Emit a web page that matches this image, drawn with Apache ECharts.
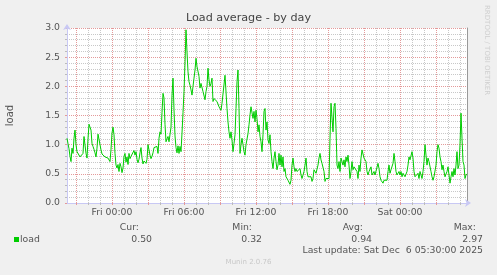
<!DOCTYPE html>
<html><head><meta charset="utf-8">
<script src="https://cdn.jsdelivr.net/npm/echarts@6/dist/echarts.min.js"></script>
<style>html,body{margin:0;padding:0;background:#f0f0f0}#c{width:497px;height:275px}</style>
</head><body><div id="c"></div>
<script>
// time in minutes relative to Fri 00:00; samples every 5 minutes from Thu 20:15 to Sat 05:35
const startMinute = -225;
const stepMinutes = 5;
const load = [
1.11,1.02,0.93,0.80,0.71,0.94,0.85,1.11,1.25,1.0,
0.88,0.85,0.89,0.79,0.81,0.80,0.85,1.14,1.17,0.85,
0.77,1.10,1.35,1.38,1.25,1.02,0.97,0.92,0.86,0.79,
0.94,1.18,1.15,1.0,0.91,0.84,0.86,0.84,0.79,0.82,
0.78,0.77,0.78,0.71,0.92,1.2,1.30,1.17,0.85,0.65,
0.60,0.66,0.54,0.68,0.62,0.52,0.60,0.80,0.85,0.70,
0.79,0.66,0.85,0.76,0.80,0.79,0.82,0.90,0.82,0.88,
0.75,0.69,0.75,0.86,0.95,0.77,0.67,0.72,0.75,0.68,
0.75,1.0,0.91,0.82,0.76,0.80,0.86,0.95,0.94,0.97,
0.97,0.85,1.11,1.22,1.18,
1.55,1.88,1.80,1.35,1.05,1.10,1.14,1.05,1.02,1.30,
1.85,2.14,1.60,1.15,0.95,0.86,0.98,0.85,0.97,0.88,
1.20,1.55,1.91,2.40,2.97,2.59,2.25,2.08,2.02,1.94,
1.85,2.0,2.14,2.28,2.48,2.34,2.37,2.17,1.97,2.05,
2.02,1.91,1.88,1.77,1.91,2.0,2.31,2.11,2.0,2.05,
2.14,1.74,1.79,1.77,1.82,1.74,1.77,1.65,1.68,1.59,
1.71,1.68,1.74,2.19,2.22,1.62,1.39,1.22,1.11,1.22,
1.08,0.88,1.02,1.17,1.62,2.08,2.28,1.62,0.85,1.0,
1.11,1.0,0.88,0.82,1.0,1.02,1.19,1.34,1.51,1.65,
1.65,1.45,1.57,1.39,1.59,1.45,1.22,1.34,1.14,1.05,
0.88,1.17,1.57,1.62,1.25,1.39,1.08,1.02,1.17,0.88,
0.71,0.59,0.77,0.88,0.71,0.57,0.65,0.85,0.65,0.82,
0.62,0.79,0.54,0.59,0.45,0.42,0.39,0.37,0.32,0.39,
0.65,0.77,0.62,0.54,0.59,0.54,0.57,0.54,0.59,0.48,
0.42,0.45,0.54,0.65,0.77,0.54,0.45,0.48,0.42,0.45,
0.37,0.42,0.57,0.59,0.51,0.54,0.65,0.77,0.85,0.74,
0.68,0.71,0.54,0.37,0.42,0.39,0.45,0.42,1.11,1.71,
1.68,1.22,1.65,1.71,1.28,0.65,0.59,0.71,0.54,0.77,
0.79,0.65,0.74,0.62,0.79,0.71,0.82,0.65,0.42,0.54,
0.71,0.57,0.62,0.59,0.62,0.54,0.42,0.65,0.54,0.77,
0.91,0.88,0.77,0.74,0.71,0.54,0.48,0.54,0.57,0.62,
0.48,0.51,0.54,0.48,0.51,0.48,0.68,0.59,0.45,0.39,
0.37,0.34,0.39,0.37,0.39,0.39,0.54,0.65,0.51,0.57,
0.54,0.68,0.85,0.71,0.54,0.48,0.51,0.54,0.48,0.54,
0.45,0.51,0.48,0.45,0.45,0.54,0.65,0.79,0.74,0.71,
0.88,0.77,0.54,0.45,0.42,0.48,0.51,0.42,0.54,0.48,
0.42,0.54,0.71,1.0,0.82,0.65,0.77,0.71,0.74,0.54,
0.45,0.39,0.45,0.42,0.65,0.88,1.0,0.94,0.79,0.71,
0.57,0.65,0.54,0.45,0.42,0.54,0.62,0.48,0.34,0.45,
0.54,0.45,0.59,0.48,0.65,0.88,0.59,0.65,1.0,1.54,
1.11,0.71,0.65,0.42,0.48,0.50
];
const xLabelMinutes = [0, 360, 720, 1080, 1440];
const xLabels = ['Fri 00:00', 'Fri 06:00', 'Fri 12:00', 'Fri 18:00', 'Sat 00:00'];
const majorGridMinutes = [-180, 0, 180, 360, 540, 720, 900, 1080, 1260, 1440, 1620];
const minorGridMinutes = [-120, -60, 60, 120, 240, 300, 420, 480, 600, 660, 780, 840, 960, 1020, 1140, 1200, 1320, 1380, 1500, 1560, 1680, 1740];
const xMin = -225, xMax = 1775;
const yMin = 0, yMax = 3, yStep = 0.5;
const seriesName = 'load';
const statHeaders = ['Cur:', 'Min:', 'Avg:', 'Max:'];
const statValues = ['0.50', '0.32', '0.94', '2.97'];
const lastUpdate = 'Last update: Sat Dec  6 05:30:00 2025';
const titleText = 'Load average - by day';
const sideText = 'RRDTOOL / TOBI OETIKER';
const footerText = 'Munin 2.0.76';

const FONT = 'DejaVu Sans';
const TXT = '#555';
const LINE = '#00cc00';
const MAJOR = '#e49a9a';
const MINOR = '#c8c8c8';
const AXIS = '#c8c8f4';

const data = load.map((v, i) => [startMinute + i * stepMinutes, v]);

const statHeaderRight = [139, 252, 363, 476];
const statValueRight = [152, 262, 372, 483];
const f93 = '9.3px "' + FONT + '"';

const graphic = [
  { type: 'text', x: 487, y: 5, rotation: -Math.PI / 2,
    style: { text: sideText, fill: '#cfcfcf', font: '7px "' + FONT + '"', textAlign: 'left', textVerticalAlign: 'middle' } },
  { type: 'rect', shape: { x: 14, y: 237, width: 5, height: 5 }, style: { fill: LINE } },
  { type: 'text', x: 20, y: 239.5, style: { text: seriesName, fill: TXT, font: f93, textVerticalAlign: 'middle' } },
  { type: 'text', x: 483, y: 251, style: { text: lastUpdate, fill: TXT, font: f93, textAlign: 'right', textVerticalAlign: 'middle' } },
  { type: 'text', x: 248.5, y: 262.5, style: { text: footerText, fill: '#c8c8c8', font: '7px "' + FONT + '"', textAlign: 'center', textVerticalAlign: 'middle' } }
];
statHeaders.forEach((h, i) => {
  graphic.push({ type: 'text', x: statHeaderRight[i], y: 227.5, style: { text: h, fill: TXT, font: f93, textAlign: 'right', textVerticalAlign: 'middle' } });
  graphic.push({ type: 'text', x: statValueRight[i], y: 239.5, style: { text: statValues[i], fill: TXT, font: f93, textAlign: 'right', textVerticalAlign: 'middle' } });
});

const chart = echarts.init(document.getElementById('c'), null, { renderer: 'canvas' });
chart.setOption({
  animation: false,
  backgroundColor: '#f0f0f0',
  textStyle: { fontFamily: FONT },
  title: { text: titleText, left: 'center', top: 13, padding: 0,
    textStyle: { fontFamily: FONT, fontSize: 11.2, fontWeight: 'normal', color: '#444' } },
  grid: { left: 67, top: 28, width: 400, height: 175, show: true, backgroundColor: '#ffffff', borderWidth: 0,
    containLabel: false, outerBoundsMode: 'none' },
  xAxis: [
    { type: 'value', min: xMin, max: xMax, position: 'bottom',
      axisLine: { show: false, onZero: false }, axisLabel: { show: false },
      axisTick: { show: true, length: 2, customValues: minorGridMinutes, lineStyle: { color: '#bbb' } },
      splitLine: { show: true, lineStyle: { color: MINOR, type: [1, 1], width: 1 } } },
    { type: 'value', min: xMin, max: xMax, position: 'bottom',
      axisLine: { show: false, onZero: false }, axisLabel: { show: false },
      axisTick: { show: true, length: 2, customValues: majorGridMinutes, lineStyle: { color: MAJOR } },
      splitLine: { show: true, lineStyle: { color: MAJOR, type: [1, 1], width: 1 } } },
    { type: 'value', min: xMin, max: xMax, position: 'bottom',
      axisLine: { show: true, onZero: false, symbol: ['none', 'arrow'], symbolSize: [6, 6], symbolOffset: [0, 4], lineStyle: { color: AXIS, width: 1 } },
      axisTick: { show: false },
      splitLine: { show: false },
      axisLabel: { show: true, customValues: xLabelMinutes, margin: 5, color: TXT, fontSize: 9.3, fontFamily: FONT,
        formatter: v => { const i = xLabelMinutes.indexOf(v); return i >= 0 ? xLabels[i] : ''; } } }
  ],
  yAxis: [
    { type: 'value', min: yMin, max: yMax, interval: yStep, position: 'left',
      name: 'load', nameLocation: 'middle', nameRotate: 90, nameGap: 52,
      nameTextStyle: { color: TXT, fontSize: 10, fontFamily: FONT },
      axisLine: { show: true, onZero: false, symbol: ['none', 'arrow'], symbolSize: [6, 6], symbolOffset: [0, 4], lineStyle: { color: AXIS, width: 1 } },
      axisTick: { show: true, length: 2, lineStyle: { color: MAJOR } },
      minorTick: { show: true, splitNumber: 5, length: 2, lineStyle: { color: '#bbb' } },
      axisLabel: { margin: 7, color: TXT, fontSize: 9.3, fontFamily: FONT, formatter: v => v.toFixed(1) },
      splitLine: { show: true, lineStyle: { color: MAJOR, type: [1, 1], width: 1 } },
      minorSplitLine: { show: true, lineStyle: { color: MINOR, type: [1, 1], width: 1 } } },
    { type: 'value', min: yMin, max: yMax, position: 'right',
      axisLine: { show: true, onZero: false, lineStyle: { color: '#999', width: 1 } },
      axisTick: { show: false }, axisLabel: { show: false }, splitLine: { show: false } }
  ],
  series: [{
    name: seriesName, type: 'line', data: data, xAxisIndex: 2, yAxisIndex: 0,
    showSymbol: false, symbol: 'none', lineStyle: { color: LINE, width: 1 }, itemStyle: { color: LINE }, z: 5
  }],
  graphic: graphic
});
</script>
</body></html>
